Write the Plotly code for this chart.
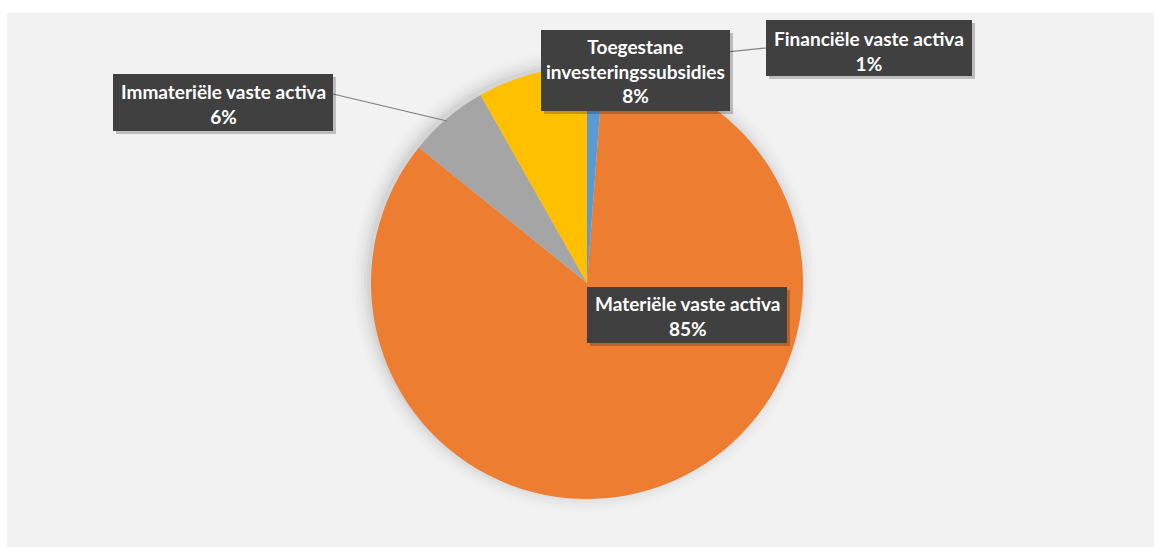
import plotly.graph_objects as go

# Composition of fixed assets (share of total)
categories = [
    "Financiële vaste activa",
    "Materiële vaste activa",
    "Immateriële vaste activa",
    "Toegestane investeringssubsidies",
]
values = [1.2, 84.6, 6.0, 8.2]
colors = ["#5B9BD5", "#ED7D31", "#A5A5A5", "#FFC000"]

W, H = 1154, 547


def px(x):
    return x / W


def py(y):
    return 1 - y / H


# pie geometry in pixels
cx, cy, r = 587, 283, 216

fig = go.Figure()
fig.add_trace(go.Pie(
    labels=categories,
    values=values,
    sort=False,
    direction="clockwise",
    rotation=0,
    marker=dict(colors=colors, line=dict(width=0)),
    textinfo="none",
    hoverinfo="label+percent",
    showlegend=False,
    domain=dict(x=[px(cx - r), px(cx + r)], y=[py(cy + r), py(cy - r)]),
))

shapes = []
# chart area background
shapes.append(dict(type="rect", xref="paper", yref="paper",
                   x0=px(7), x1=1.0, y0=0.0, y1=py(13),
                   fillcolor="#F2F2F2", line=dict(width=0), layer="below"))
# soft shadow around the pie
for i, a in enumerate([0.035, 0.028, 0.02, 0.014, 0.01, 0.006]):
    rr = r + 1 + i * 3
    shapes.append(dict(type="circle", xref="paper", yref="paper",
                       x0=px(cx - rr - 3), x1=px(cx + rr - 3),
                       y0=py(cy + rr - 3), y1=py(cy - rr - 3),
                       fillcolor=f"rgba(0,0,0,{a})", line=dict(width=0),
                       layer="below"))

# leader lines
shapes.append(dict(type="line", xref="paper", yref="paper",
                   x0=px(592), y0=py(66), x1=px(766), y1=py(48),
                   line=dict(color="#7F7F7F", width=1.2), layer="above"))
shapes.append(dict(type="line", xref="paper", yref="paper",
                   x0=px(333), y0=py(94), x1=px(447), y1=py(121),
                   line=dict(color="#7F7F7F", width=1.2), layer="above"))

# label boxes: (x0, y0, x1, y1, center_x, center_y, text)
total = sum(values)
pct = {c: f"{round(v / total * 100)}%" for c, v in zip(categories, values)}
boxes = [
    (766, 20, 972, 76, 869, 51, f"{categories[0]}<br>{pct[categories[0]]}"),
    (587, 287, 787, 343, 687, 316, f"{categories[1]}<br>{pct[categories[1]]}"),
    (113, 74, 333, 131, 223, 104, f"{categories[2]}<br>{pct[categories[2]]}"),
    (541, 30, 730, 111, 635, 71, "Toegestane<br>investeringssubsidies<br>"
     + pct[categories[3]]),
]

annotations = []
for x0, y0, x1, y1, tx, ty, text in boxes:
    # drop shadow
    shapes.append(dict(type="rect", xref="paper", yref="paper",
                       x0=px(x0 + 3), x1=px(x1 + 3), y0=py(y1 + 3), y1=py(y0 + 3),
                       fillcolor="rgba(0,0,0,0.22)", line=dict(width=0),
                       layer="above"))
    shapes.append(dict(type="rect", xref="paper", yref="paper",
                       x0=px(x0), x1=px(x1), y0=py(y1), y1=py(y0),
                       fillcolor="#404040", line=dict(width=0), layer="above"))
    annotations.append(dict(
        x=px(tx), y=py(ty), xref="paper", yref="paper",
        text=f"<b>{text}</b>", showarrow=False, align="center",
        xanchor="center", yanchor="middle",
        font=dict(family="Lato, Open Sans, sans-serif", size=19, color="white"),
    ))

fig.update_layout(
    width=W, height=H,
    margin=dict(l=0, r=0, t=0, b=0),
    paper_bgcolor="white",
    plot_bgcolor="white",
    shapes=shapes,
    annotations=annotations,
)

fig.write_html("out.html")
